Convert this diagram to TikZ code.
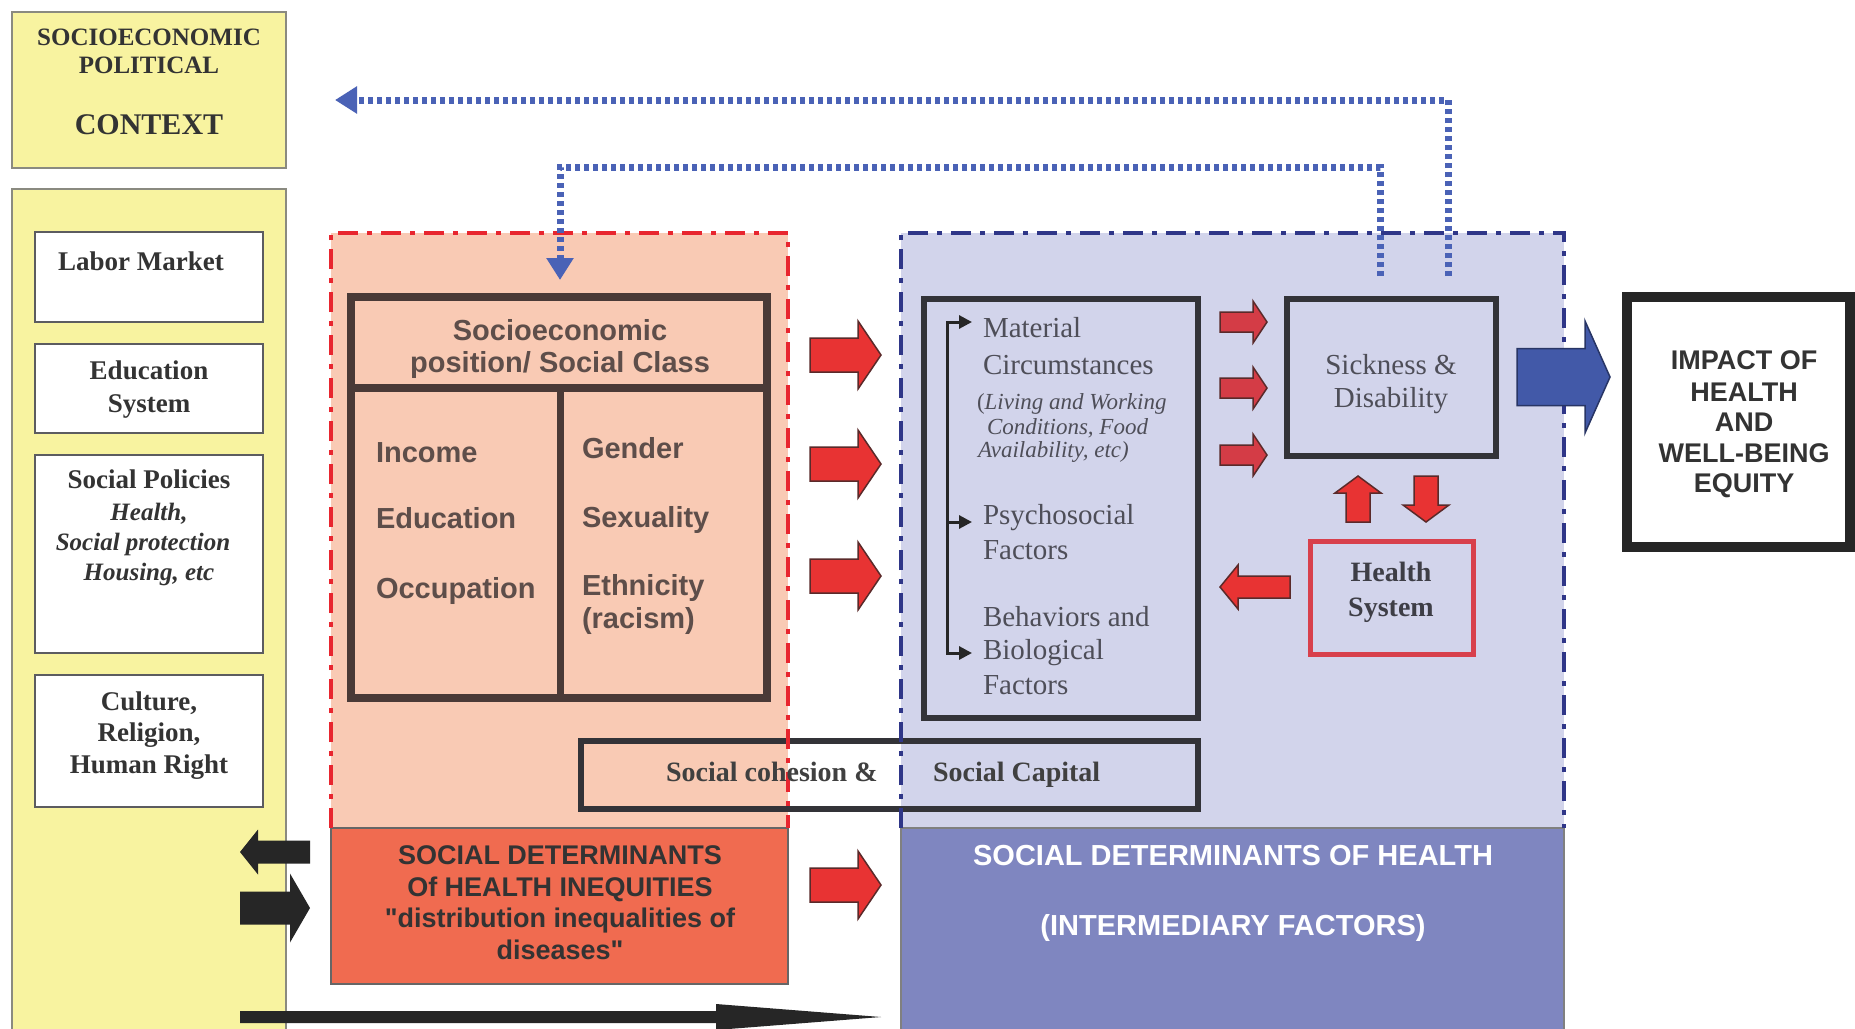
\documentclass[tikz,border=0pt]{standalone}
\usepackage{fontspec}
\setmainfont{Liberation Serif}
\setsansfont{Liberation Sans}
\newfontfamily\rawsans[Ligatures=ResetAll]{Liberation Sans}
\usetikzlibrary{arrows.meta}
\newcommand\fsz[2]{\fontsize{#1}{#2}\selectfont}
\newcommand\harrow[7]{\filldraw[#1] (#2,{#5-#6}) -- (#3,{#5-#6}) -- (#3,{#5-#7}) -- (#4,#5) -- (#3,{#5+#7}) -- (#3,{#5+#6}) -- (#2,{#5+#6}) -- cycle;}
\newcommand\varrow[7]{\filldraw[#1] ({#2-#6},#3) -- ({#2-#6},#4) -- ({#2-#7},#4) -- (#2,#5) -- ({#2+#7},#4) -- ({#2+#6},#4) -- ({#2+#6},#3) -- cycle;}
\newcommand\dq{{\rawsans\bfseries\char34}}
\definecolor{ylw}{HTML}{F8F3A0}
\definecolor{ylwline}{HTML}{8A8A80}
\definecolor{salmon}{HTML}{F9CAB4}
\definecolor{redbox}{HTML}{F06B50}
\definecolor{lav}{HTML}{D2D4EB}
\definecolor{bluebox}{HTML}{7F86C0}
\definecolor{arrred}{HTML}{E83333}
\definecolor{smallred}{HTML}{D43C46}
\definecolor{arrline}{HTML}{5A2A2A}
\definecolor{arrblue}{HTML}{4259A8}
\definecolor{dotblue}{HTML}{4A62B6}
\definecolor{dashred}{HTML}{E8262F}
\definecolor{dashnavy}{HTML}{2F3688}
\definecolor{seprule}{HTML}{4A3A37}
\definecolor{septxt}{HTML}{5E4E4A}
\definecolor{txtdark}{HTML}{333333}
\definecolor{boxline}{HTML}{333338}
\definecolor{hsred}{HTML}{D8404C}
\definecolor{lavtxt}{HTML}{4E4E58}
\begin{document}
\begin{tikzpicture}[x=1pt,y=-1pt,
  every node/.style={inner sep=0pt, outer sep=0pt},
  area/.style={anchor=north west, draw=none},
  ybox/.style={anchor=north west, fill=ylw, draw=ylwline, line width=2},
  wbox/.style={anchor=north west, fill=white, draw=boxline!80, line width=2.5},
  kbox/.style={anchor=north west, draw=boxline, line width=6},
  lserb/.style={font={\fsz{27}{31}\bfseries}, text=txtdark, anchor=base},
  lseri/.style={font={\fsz{25}{29}\bfseries\itshape}, text=txtdark, anchor=base},
  septext/.style={font={\sffamily\fsz{29}{33}\bfseries}, text=septxt, anchor=base west},
  mattext/.style={font={\fsz{29}{33}}, text=lavtxt, anchor=base west},
  matit/.style={font={\fsz{23}{27}\itshape}, text=lavtxt, anchor=base west},
  bigred/.style={fill=arrred, draw=arrline, line width=1.5},
  smred/.style={fill=smallred, draw=arrline, line width=1.5},
  blk/.style={fill=black!85, draw=none},
  bluearr/.style={fill=arrblue, draw=arrblue!60!black, line width=1.5},
  dotl/.style={draw=dotblue, line width=7, dash pattern=on 5pt off 4pt, -{Triangle[length=22pt,width=26pt]}},
  dashdot/.style={line width=4.5, dash pattern=on 20pt off 9pt on 5pt off 9pt},
  brk/.style={draw=black!85, line width=3, -{Triangle[length=13pt,width=13pt]}}
]
\useasboundingbox (0,0) rectangle (1855,1028);
\fill[white] (0,0) rectangle (1855,1028);

% ---- left context column
\node[ybox, minimum width=274, minimum height=156] (ctx) at (12,12) {};
\node[ybox, minimum width=274, minimum height=860] (col) at (12,189) {};
\node[wbox, minimum width=228, minimum height=90] (labor) at (35,232) {};
\node[wbox, minimum width=228, minimum height=89] (edu) at (35,344) {};
\node[wbox, minimum width=228, minimum height=198] (pol) at (35,455) {};
\node[wbox, minimum width=228, minimum height=132] (cul) at (35,675) {};

\node[font={\fsz{25}{28}\bfseries}, text=txtdark, anchor=base] (c1) at (149,45) {SOCIOECONOMIC};
\node[font={\fsz{25}{28}\bfseries}, text=txtdark, anchor=base] (c2) at (149,73) {POLITICAL};
\node[font={\fsz{30}{34}\bfseries}, text=txtdark, anchor=base] (c3) at (149,134) {CONTEXT};

\node[lserb] (l1) at (141,270) {Labor Market};
\node[lserb] (l2) at (149,379) {Education};
\node[lserb] (l3) at (149,412) {System};
\node[lserb] (l4) at (149,488) {Social Policies};
\node[lseri] (l5) at (149,520) {Health,};
\node[lseri] (l6) at (143,550) {Social protection};
\node[lseri] (l7) at (149,580) {Housing, etc};
\node[lserb] (l8) at (149,710) {Culture,};
\node[lserb] (l9) at (149,741) {Religion,};
\node[lserb] (l10) at (149,773) {Human Right};

% ---- structural region (red)
\node[area, fill=salmon, minimum width=457, minimum height=595] (redreg) at (331,233) {};
\node[anchor=north west, fill=redbox, draw=black!60, line width=1.5, minimum width=457, minimum height=156] (sdhi) at (331,828) {};
% ---- intermediary region (blue)
\node[area, fill=lav, minimum width=663, minimum height=595] (bluereg) at (901,233) {};
\node[anchor=north west, fill=bluebox, draw=black!50, line width=1.5, minimum width=663, minimum height=220] (sdh) at (901,828) {};

% social cohesion box
\node[kbox, minimum width=617, minimum height=68] (soc) at (581,741) {};

% region borders
\draw[dashdot, draw=dashred] (redreg.south west) -- (redreg.north west) -- (redreg.north east) -- (redreg.south east);
\draw[dashdot, draw=dashnavy] (bluereg.south west) -- (bluereg.north west) -- (bluereg.north east) -- (bluereg.south east);

% socioeconomic position box
\node[anchor=north west, draw=seprule, line width=8, minimum width=416, minimum height=401] (sep) at (351,297) {};
\coordinate (sepL) at (351,388);
\coordinate (sepR) at (767,388);
\coordinate (sepT) at (560,388);
\coordinate (sepB) at (560,698);
\draw[draw=seprule, line width=8] (sepL) -- (sepR);
\draw[draw=seprule, line width=7] (sepT) -- (sepB);
\node[font={\sffamily\fsz{29}{33}\bfseries}, text=septxt, anchor=base] (s1) at (560,340) {Socioeconomic};
\node[font={\sffamily\fsz{29}{33}\bfseries}, text=septxt, anchor=base] (s2) at (560,372) {position/ Social Class};
\node[septext] (s3) at (376,462) {Income};
\node[septext] (s4) at (376,528) {Education};
\node[septext] (s5) at (376,598) {Occupation};
\node[septext] (s6) at (582,458) {Gender};
\node[septext] (s7) at (582,527) {Sexuality};
\node[septext] (s8) at (582,595) {Ethnicity};
\node[septext] (s9) at (582,628) {(racism)};

% SDHI text
\node[font={\sffamily\fsz{27}{31}\bfseries}, text=black!80, anchor=base] (r1) at (560,864) {SOCIAL DETERMINANTS};
\node[font={\sffamily\fsz{27}{31}\bfseries}, text=black!80, anchor=base] (r2) at (560,896) {Of HEALTH INEQUITIES};
\node[font={\sffamily\fsz{27}{31}\bfseries}, text=black!80, anchor=base] (r3) at (560,927) {\dq distribution inequalities of};
\node[font={\sffamily\fsz{27}{31}\bfseries}, text=black!80, anchor=base] (r4) at (560,959) {diseases\dq};

% SDH text
\node[font={\sffamily\fsz{29}{33}\bfseries}, text=white, anchor=base] (b1) at (1233,865) {SOCIAL DETERMINANTS OF HEALTH};
\node[font={\sffamily\fsz{29}{33}\bfseries}, text=white, anchor=base] (b2) at (1233,935) {(INTERMEDIARY FACTORS)};

% social cohesion text
\node[font={\fsz{28}{32}\bfseries}, text=black!75, anchor=base west] (sc1) at (666,781) {Social cohesion \&};
\node[font={\fsz{28}{32}\bfseries}, text=black!75, anchor=base west] (sc2) at (933,781) {Social Capital};

% material box
\node[kbox, minimum width=274, minimum height=419] (mat) at (924,299) {};
\node[mattext] (m1) at (983,337) {Material};
\node[mattext] (m2) at (983,374) {Circumstances};
\node[matit] (m3) at (977,409) {\upshape(\itshape Living and Working};
\node[matit] (m4) at (987,434) {Conditions, Food};
\node[matit] (m5) at (978,457) {Availability, etc)};
\node[mattext] (m6) at (983,524) {Psychosocial};
\node[mattext] (m7) at (983,559) {Factors};
\node[mattext] (m8) at (983,626) {Behaviors and};
\node[mattext] (m9) at (983,659) {Biological};
\node[mattext] (m10) at (983,694) {Factors};
\coordinate (bv1) at (947,600);
\coordinate (btop) at (972,322);
\coordinate (bv2) at (947,400);
\coordinate (bbot) at (972,653);
\coordinate (bm) at (947,522);
\coordinate (bmid) at (972,522);
\draw[brk] (bv1) |- (btop);
\draw[brk] (bv2) |- (bbot);
\draw[brk] (bm) -- (bmid);

% sickness and health system
\node[kbox, minimum width=209, minimum height=157] (sick) at (1287,299) {};
\node[font={\fsz{29}{33}}, text=lavtxt, anchor=base] (k1) at (1391,374) {Sickness \&};
\node[font={\fsz{29}{33}}, text=lavtxt, anchor=base] (k2) at (1391,407) {Disability};
\node[anchor=north west, draw=hsred, line width=5, minimum width=163, minimum height=113] (hs) at (1310,541) {};
\node[font={\fsz{28}{32}\bfseries}, text=lavtxt!80!black, anchor=base] (h1) at (1391,581) {Health};
\node[font={\fsz{28}{32}\bfseries}, text=lavtxt!80!black, anchor=base] (h2) at (1391,616) {System};

% impact box
\node[anchor=north west, fill=white, draw=black!85, line width=10, minimum width=223, minimum height=250] (imp) at (1627,297) {};
\node[font={\sffamily\fsz{27}{31}\bfseries}, text=black!80, anchor=base] (i1) at (1744,369) {IMPACT OF};
\node[font={\sffamily\fsz{27}{31}\bfseries}, text=black!80, anchor=base] (i2) at (1744,401) {HEALTH};
\node[font={\sffamily\fsz{27}{31}\bfseries}, text=black!80, anchor=base] (i3) at (1744,431) {AND};
\node[font={\sffamily\fsz{27}{31}\bfseries}, text=black!80, anchor=base] (i4) at (1744,462) {WELL-BEING};
\node[font={\sffamily\fsz{27}{31}\bfseries}, text=black!80, anchor=base] (i5) at (1744,492) {EQUITY};

% ---- block arrows
\harrow{bigred}{810}{858}{881}{355}{17}{34}
\harrow{bigred}{810}{858}{881}{464}{17}{34}
\harrow{bigred}{810}{858}{881}{576}{17}{34}
\harrow{bigred}{810}{858}{881}{885}{17}{34}
\harrow{smred}{1220}{1253}{1267}{322}{10}{21}
\harrow{smred}{1220}{1253}{1267}{388}{10}{21}
\harrow{smred}{1220}{1253}{1267}{455}{10}{21}
\harrow{bigred}{1290}{1238}{1220}{587}{11}{22}
\varrow{bigred}{1358}{522}{493}{476}{12}{23}
\varrow{bigred}{1426}{476}{505}{522}{12}{23}
\harrow{bluearr}{1517}{1585}{1610}{377}{28.5}{56}
\harrow{blk}{310}{258}{240}{852}{11.5}{22.5}
\harrow{blk}{240}{290}{310}{908}{16.5}{34.5}
\fill[black!85] (240,1011) -- (716,1011) -- (716,1004) -- (881,1017) -- (716,1030) -- (716,1023) -- (240,1023) -- cycle;

% ---- dotted feedback connectors
\coordinate (d1s) at (1448,276);
\coordinate (d1e) at (335,100);
\coordinate (d2s) at (1380,276);
\coordinate (d2m) at (560,167);
\coordinate (d2e) at (560,280);
\draw[dotl] (d1s) |- (d1e);
\draw[dotl] (d2s) |- (d2m) -- (d2e);
\end{tikzpicture}
\end{document}
